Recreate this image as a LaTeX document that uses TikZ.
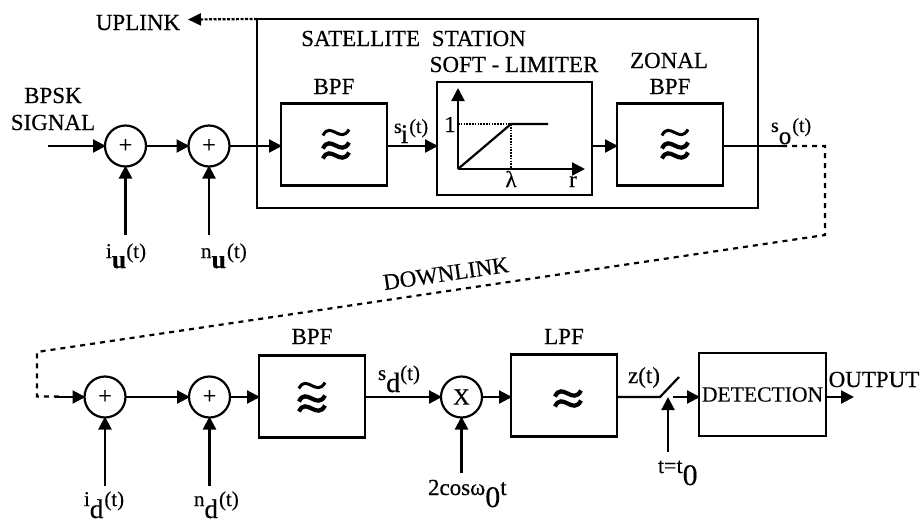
\documentclass[tikz,border=0pt]{standalone}
\usepackage{fontspec}
\setmainfont{Liberation Serif}[FakeBold=0.35]
\usetikzlibrary{arrows.meta}
\newcommand\lbl[5][11pt]{\raisebox{#1}{\fontsize{#2}{#2}\selectfont #3}#4\raisebox{#1}{\fontsize{#2}{#2}\selectfont #5}}
\newcommand\bigsub[2]{{\fontsize{#1}{#1}\selectfont #2}}
\tikzset{
  x=1pt,y=-1pt,
  every node/.style={inner sep=0pt,outer sep=0pt,font=\fontsize{23}{25}\selectfont},
  lw/.style={line width=2.2pt},
  blockbox/.style={draw,lw,minimum width=#1,minimum height=82pt},
  sumnode/.style={draw,lw,circle,minimum size=41pt,font=\fontsize{24}{24}\selectfont},
  sig/.style={lw,-{Triangle[length=13pt,width=13pt]},shorten >=-1pt},
  wire/.style={lw},
  dash link/.style={lw,dash pattern=on 5pt off 5pt},
  tilde wave/.pic={\draw[line width=4.2pt] (-13,3) .. controls (-6,-12) and (5,12) .. (13,-3);},
  thin wave/.pic={\draw[line width=3pt] (-13,3) .. controls (-6,-12) and (5,12) .. (13,-3);}
}
\begin{document}
\begin{tikzpicture}
\useasboundingbox (0,0) rectangle (920,523);
% satellite station
\node[draw,lw,minimum width=501pt,minimum height=189pt] (sat) at (507.5,113.5) {};
\node[anchor=base] (sattext) at (413.5,46) {SATELLITE\hspace{6pt} STATION};
\node[blockbox=106pt] (bpfa) at (334,144.5) {};
\node[anchor=base] (bpfat) at (334,94) {BPF};
\node[draw,lw,minimum width=155pt,minimum height=113pt] (lim) at (514.5,138.5) {};
\node[anchor=base] (limt) at (514,72) {SOFT - LIMITER};
\node[blockbox=106pt] (zon) at (670,144.5) {};
\node[anchor=base] (zont) at (669,68) {ZONAL};
\node[anchor=base] (zont2) at (670,94) {BPF};
\foreach \c/\d in {bpfa/2,zon/5}{
  \pic at ([xshift=\d pt,yshift=-11pt]\c.center) {tilde wave};
  \pic at ([xshift=\d pt,yshift=-1pt]\c.center) {tilde wave};
  \pic at ([xshift=\d pt,yshift=12pt]\c.center) {thin wave};
}
% limiter curve
\coordinate (o) at (458,169);
\coordinate (ytop) at (458,89);
\coordinate (xend) at (584,169);
\coordinate (knee) at (511,124);
\coordinate (flat) at (548,124);
\coordinate (oney) at (458,124);
\coordinate (lamx) at (511,169);
\draw[sig] (o) -- (ytop);
\draw[sig] (o) -- (xend);
\draw[lw] (o) -- (knee) -- (flat);
\draw[line width=2pt,dash pattern=on 1.6pt off 1.2pt] (oney) -- (knee) -- (lamx);
\node[anchor=base] (one) at (450,132) {1};
\node[anchor=base] (lam) at (511,187) {λ};
\node[anchor=base] (rr) at (573,187) {r};
% top row
\node[sumnode] (c1) at (125.5,146) {+};
\node[sumnode] (c2) at (209,146) {+};
\coordinate (in) at (48,146);
\coordinate (iu) at (125.5,235);
\coordinate (nu) at (209,235);
\coordinate (upl) at (188,19.5);
\draw[sig] (in) -- (c1);
\draw[sig] (c1) -- (c2);
\draw[sig] (c2) -- (bpfa.west |- c2);
\draw[sig] (bpfa.east |- c2) -- (lim.west |- c2);
\draw[sig] (lim.east |- c2) -- (zon.west |- c2);
\draw[sig] (iu) -- (c1);
\draw[sig] (nu) -- (c2);
\draw[lw,dash pattern=on 3pt off 1.5pt,-{Triangle[length=13pt,width=12pt]}] (sat.north west) -- (upl);
\node[anchor=base] (upt) at (138,30) {UPLINK};
\node[anchor=base] (bp) at (53,103) {BPSK};
\node[anchor=base] (si) at (53,130) {SIGNAL};
\node[anchor=base west] (lsi) at (394,143) {\lbl[10pt]{20}{s}{\hspace{-1pt}\bigsub{27}{i}\hspace{1pt}}{(t)}};
\node[anchor=base west] (lso) at (771,144) {\lbl[12pt]{20}{s}{\bigsub{25}{o}\hspace{1pt}}{(t)}};
\node[anchor=base west] (liu) at (106,268) {\lbl[10pt]{21}{i}{\bigsub{26}{\textbf{u}}}{(t)}};
\node[anchor=base west] (lnu) at (201,268) {\lbl[10pt]{21}{n}{\bigsub{26}{\textbf{u}}\hspace{1pt}}{(t)}};
% downlink
\coordinate (outa) at (782,146);
\coordinate (d1) at (825,146);
\coordinate (d2) at (825,235);
\coordinate (d3) at (37,352);
\coordinate (d4) at (37,396.5);
\coordinate (d5) at (60,396.5);
\draw[lw] (zon.east |- outa) -- (outa);
\draw[dash link] (outa) -- (d1) -- (d2) -- (d3) -- (d4) -- (d5);
\node[rotate=8.3,anchor=base] (dlt) at (447,281) {DOWNLINK};
% bottom row
\node[sumnode] (c3) at (105,397) {+};
\node[sumnode] (c4) at (209.5,397) {+};
\node[blockbox=106pt] (bpfb) at (312,396.5) {};
\node[anchor=base] (bpfbt) at (312,344) {BPF};
\node[sumnode,font=\fontsize{23}{23}\selectfont] (mx) at (461.5,397) {X};
\node[blockbox=106pt] (lpf) at (564,395.5) {};
\node[anchor=base] (lpft) at (564,344) {LPF};
\node[draw,lw,minimum width=127pt,minimum height=83pt,font=\fontsize{21.6}{22}\selectfont] (det) at (762.5,394.5) {DETECTION};
\pic at ([yshift=-12pt]bpfb.center) {tilde wave};
\pic at ([yshift=-2pt]bpfb.center) {tilde wave};
\pic at ([yshift=11pt]bpfb.center) {thin wave};
\pic at ([xshift=4pt,yshift=-8pt]lpf.center) {tilde wave};
\pic at ([xshift=4pt,yshift=2pt]lpf.center) {tilde wave};
\coordinate (d6) at (55,397);
\coordinate (id) at (105,486);
\coordinate (nd) at (209.5,486);
\coordinate (co) at (461.5,473);
\coordinate (sw) at (660,397);
\coordinate (swe) at (679,377);
\coordinate (swo) at (673,397);
\coordinate (tt) at (668,452);
\coordinate (ttt) at (668,398);
\coordinate (outp) at (853,397);
\draw[sig] (d6) -- (c3);
\draw[sig] (c3) -- (c4);
\draw[sig] (c4) -- (bpfb.west |- c4);
\draw[sig] (bpfb.east |- c4) -- (mx);
\draw[sig] (mx) -- (lpf.west |- mx);
\draw[lw] (lpf.east |- mx) -- (sw) -- (swe);
\draw[sig] (swo) -- (det.west |- swo);
\draw[sig] (tt) -- (ttt);
\draw[sig] (det.east |- outp) -- (outp);
\draw[sig] (id) -- (c3);
\draw[sig] (nd) -- (c4);
\draw[sig] (co) -- (mx);
\node[anchor=base west] (lid) at (84,518) {\lbl[12pt]{21}{i}{\bigsub{27}{d}\hspace{1pt}}{(t)}};
\node[anchor=base west] (lnd) at (194,518) {\lbl[12pt]{21}{n}{\bigsub{27}{d}\hspace{1pt}}{(t)}};
\node[anchor=base west] (lsd) at (378,392) {\lbl[12pt]{21}{s}{\bigsub{28}{d}}{(t)}};
\node[anchor=base west] (lco) at (428,507) {\lbl[12pt]{23}{2cosω}{\bigsub{30}{0}}{t}};
\node[anchor=base] (lz) at (644,383) {z(t)};
\node[anchor=base west] (ltt) at (658,485) {\lbl[12pt]{22}{t=t}{\bigsub{30}{0}}{}};
\node[anchor=base] (lout) at (874,387) {OUTPUT};
\end{tikzpicture}
\end{document}
